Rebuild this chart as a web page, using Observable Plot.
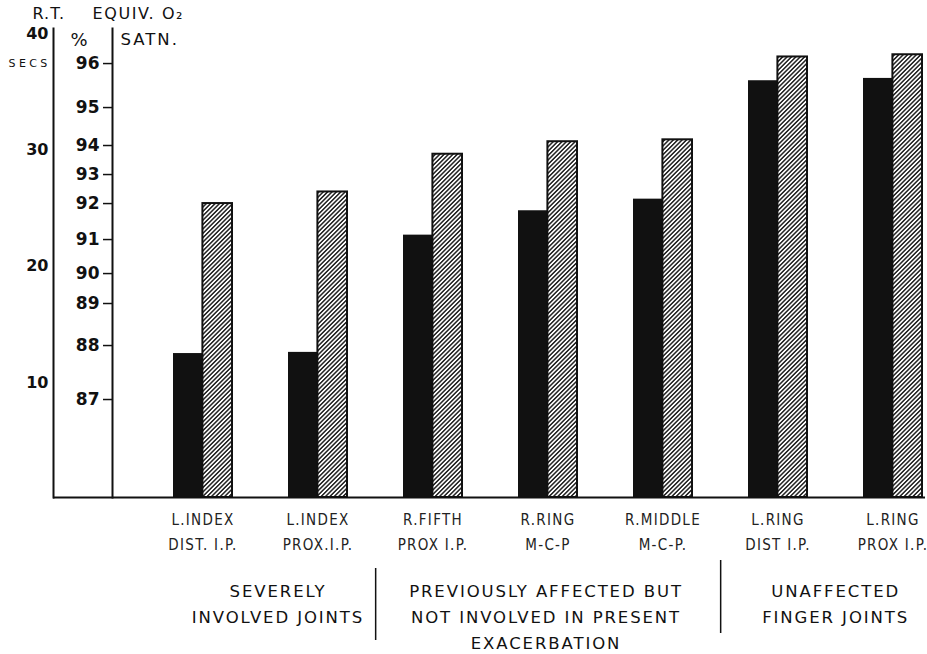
<!DOCTYPE html>
<html>
<head>
<meta charset="utf-8">
<script src="https://cdn.jsdelivr.net/npm/d3@7"></script>
<script src="https://cdn.jsdelivr.net/npm/@observablehq/plot@0.6"></script>
<style>
  body { margin: 0; background: #fff; }
</style>
</head>
<body>
<div id="chart"></div>
<script>
// ---------- data ----------
const categories = ["L.INDEX DIST. I.P.", "L.INDEX PROX.I.P.", "R.FIFTH PROX I.P.", "R.RING M-C-P", "R.MIDDLE M-C-P.", "L.RING DIST I.P.", "L.RING PROX I.P."];
const labelLine1 = ["L.INDEX", "L.INDEX", "R.FIFTH", "R.RING", "R.MIDDLE", "L.RING", "L.RING"];
const labelLine2 = ["DIST. I.P.", "PROX.I.P.", "PROX I.P.", "M-C-P", "M-C-P.", "DIST I.P.", "PROX I.P."];
const rtSecs = [12.4, 12.5, 22.6, 24.7, 25.7, 35.9, 36.1];          // black bars, R.T. secs
const o2Satn = [92.0, 92.4, 93.7, 94.1, 94.15, 96.15, 96.2];        // hatched bars, equiv. O2 satn %
const secsTicks = [10, 20, 30, 40];
const o2Ticks = [87, 88, 89, 90, 91, 92, 93, 94, 95, 96];
const o2TickSecs = [8.44, 13.09, 16.71, 19.29, 22.22, 25.32, 27.82, 30.32, 33.59, 37.38]; // calibration of the % scale against secs
const groupNames = ["SEVERELY\nINVOLVED JOINTS", "PREVIOUSLY AFFECTED BUT\nNOT INVOLVED IN PRESENT\nEXACERBATION", "UNAFFECTED\nFINGER JOINTS"];

// ---------- layout ----------
const W = 927, H = 654;
const mL = 112, mR = 2, mT = 28, mB = 157;
const pIn = 0.49, pOut = 0.27, align = 0.955;
const band = d3.scaleBand(categories, [mL, W - mR]).paddingInner(pIn).paddingOuter(pOut).align(align);
const half = band.bandwidth() / 2, step = band.step();
const ink = "#111";

const toSecs = d3.scaleLinear().domain(o2Ticks).range(o2TickSecs);
const data = categories.map((c, i) => ({cat: c, rt: rtSecs[i], o2: o2Satn[i], o2s: toSecs(o2Satn[i]), label: labelLine1[i] + "\n" + labelLine2[i]}));

function title(text, dx, dy, extra = {}) {
  return Plot.text([text], {text: d => d, frameAnchor: "top-left", dx, dy, lineAnchor: "top", textAnchor: "start", fill: ink, fontSize: 16, ...extra});
}

const groupPos = [
  {x: categories[0], dx: 75},
  {x: categories[3], dx: -2},
  {x: categories[5], dx: step / 2}
];

const chart = Plot.plot({
  width: W, height: H,
  marginLeft: mL, marginRight: mR, marginTop: mT, marginBottom: mB,
  style: {fontFamily: "DejaVu Sans, sans-serif", background: "#fff", color: ink, overflow: "visible"},
  x: {domain: categories, paddingInner: pIn, paddingOuter: pOut, align, axis: null},
  y: {domain: [0, 40.4], axis: null},
  marks: [
    Plot.barY(data, {x: "cat", y: "rt", fill: ink, insetRight: half}),
    Plot.barY(data, {x: "cat", y: "o2s", fill: "url(#hatch)", stroke: ink, strokeWidth: 2, insetLeft: half}),
    Plot.ruleY([0], {insetLeft: -59, stroke: ink, strokeWidth: 2}),
    Plot.frame({anchor: "left", stroke: ink, strokeWidth: 2}),
    Plot.frame({anchor: "left", stroke: ink, strokeWidth: 2, dx: -59}),
    Plot.axisY({ticks: o2TickSecs, anchor: "left", tickSize: 9, tickPadding: 4, strokeWidth: 1.5, stroke: ink,
      tickFormat: d => String(o2Ticks[o2TickSecs.indexOf(d)]), fontSize: 17, fontWeight: "bold", fill: ink, label: null}),
    Plot.axisY({ticks: secsTicks, anchor: "left", tickSize: 0, tickPadding: 5, dx: -59, dy: 1,
      tickFormat: d => String(d), fontSize: 16, fontWeight: "bold", fill: ink, label: null}),
    title("R.T.", -80, -21),
    title("EQUIV. O₂", -20, -21),
    title("%", -33.5, 5, {textAnchor: "middle", fontSize: 18}),
    title("SATN.", 8, 5, {fontSize: 16.5}),
    title("SECS", -104, 31, {fontSize: 11}),
    Plot.text(data, {x: "cat", text: "label", frameAnchor: "bottom", lineAnchor: "top", dy: 10, fontSize: 15,
      lineHeight: 1.65, fontFamily: "Liberation Sans Narrow, DejaVu Sans Condensed, sans-serif", fill: "#222"}),
    ...groupNames.map((g, i) => Plot.text([g], {text: d => d, x: () => groupPos[i].x, dx: groupPos[i].dx, frameAnchor: "bottom",
      lineAnchor: "top", dy: 81, fontSize: 16.5, lineHeight: 1.57, fill: ink})),
    Plot.ruleX([categories[1]], {dx: step / 2, insetTop: 568 - mT, insetBottom: (H - mB) - 640, stroke: ink, strokeWidth: 1.5}),
    Plot.ruleX([categories[4]], {dx: step / 2, insetTop: 560 - mT, insetBottom: (H - mB) - 633, stroke: ink, strokeWidth: 1.5})
  ]
});

const svg = d3.select(chart);
svg.insert("defs", ":first-child").html(
  `<pattern id="hatch" patternUnits="userSpaceOnUse" width="3.1" height="3.1" patternTransform="rotate(45)">
     <rect width="3.1" height="3.1" fill="#fff"/>
     <line x1="1.55" y1="0" x2="1.55" y2="3.1" stroke="${ink}" stroke-width="1.4"/>
   </pattern>`);

// letter spacing for the lettered texts
const spacing = new Map();
categories.forEach((c, i) => spacing.set(labelLine1[i] + labelLine2[i], "1.3px"));
groupNames.forEach(g => spacing.set(g.replace(/\n/g, ""), "1.9px"));
spacing.set("R.T.", "1px");
spacing.set("EQUIV. O₂", "1.6px");
spacing.set("SATN.", "2px");
spacing.set("SECS", "3.4px");
svg.selectAll("text").each(function () {
  const s = spacing.get(this.textContent);
  if (s) this.style.letterSpacing = s;
});
document.getElementById("chart").appendChild(chart);
</script>
</body>
</html>
